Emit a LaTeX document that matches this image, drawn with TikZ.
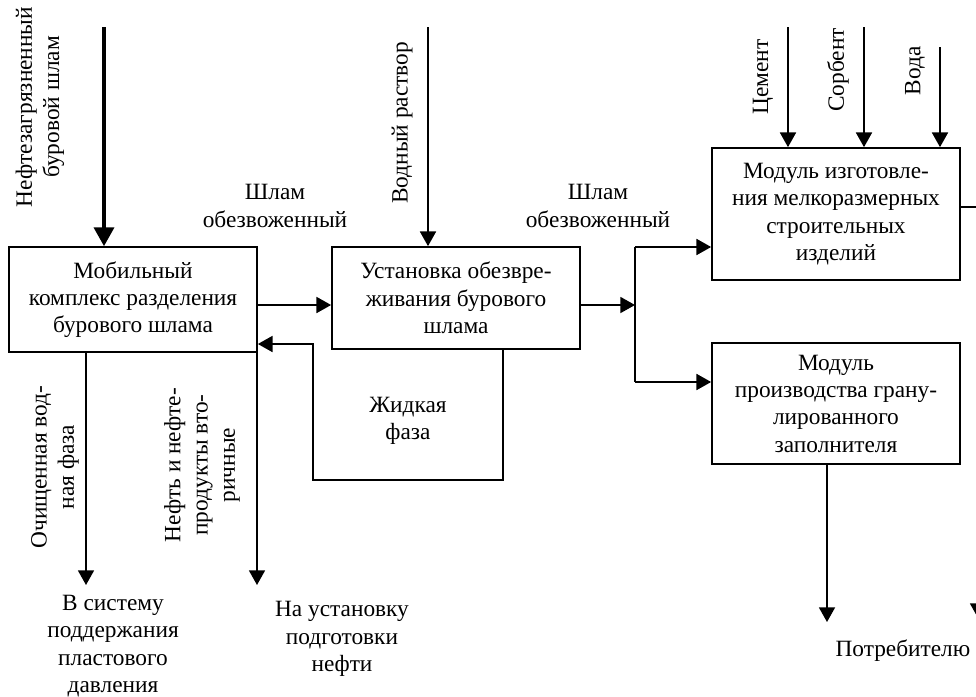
\documentclass[tikz,border=0pt]{standalone}
\usepackage{fontspec}
\setmainfont{Liberation Serif}
\usetikzlibrary{arrows.meta,calc}

\begin{document}
\begin{tikzpicture}[x=0.75pt,y=-0.75pt,
        blok/.style={draw, line width=1.3pt, minimum width=186pt, inner sep=0pt, align=center, font=\fontsize{17.5}{20.5}\selectfont},
        txt/.style={align=center, font=\fontsize{17.5}{20.5}\selectfont},
        potok/.style={line width=1.3pt, -{Triangle[length=11pt,width=12pt]}},
        linia/.style={line width=1.3pt},
        glavn/.style={line width=2.4pt, -{Triangle[length=14pt,width=15pt]}}]
        \useasboundingbox (0,0) rectangle (976,697);

        % блоки
        \node[blok, minimum height=78.75pt] (mob) at (133,299.5) {Мобильный\\комплекс разделения\\бурового шлама};
        \node[blok, minimum height=76.5pt] (ust) at (456,298) {Установка обезвре-\\живания бурового\\шлама};
        \node[blok, minimum height=99pt] (izd) at (836,214) {Модуль изготовле-\\ния мелкоразмерных\\строительных\\изделий};
        \node[blok, minimum height=90.75pt] (gran) at (836,403.5) {Модуль\\производства грану-\\лированного\\заполнителя};

        % точки потоков
        \coordinate (vhod) at (104,27);
        \coordinate (vr) at (428,27);
        \coordinate (s1) at (257,305);
        \coordinate (zh1) at (503,480);
        \coordinate (zh2) at (313,344);
        \coordinate (r1) at (635,247);
        \coordinate (r2) at (635,382);
        \coordinate (cem) at (788,27);
        \coordinate (sorb) at (864,27);
        \coordinate (voda) at (940,47);
        \coordinate (vyh1) at (86,585);
        \coordinate (vyh2) at (257,585);
        \coordinate (vyh3) at (827,622);
        \coordinate (pr1) at (978,207);
        \coordinate (pr2) at (978,618);

        \draw[glavn] (vhod) -- (vhod |- mob.north); % входной шлам
        \draw[potok] (vr) -- (vr |- ust.north);
        \draw[potok] (s1 -| mob.east) -- (s1 -| ust.west);
        \draw[potok] (zh1 |- ust.south) -- (zh1) -| (zh2) -- (zh2 -| mob.east); % жидкая фаза обратно
        \draw[potok] (s1 -| ust.east) -- (s1 -| r1);
        \draw[linia] (r1) -- (r2);
        \draw[potok] (r1) -- (r1 -| izd.west);
        \draw[potok] (r2) -- (r2 -| gran.west);
        \draw[potok] (cem) -- (cem |- izd.north);
        \draw[potok] (sorb) -- (sorb |- izd.north);
        \draw[potok] (voda) -- (voda |- izd.north);
        \draw[potok] (vyh1 |- mob.south) -- (vyh1);
        \draw[potok] (vyh2 |- mob.south) -- (vyh2);
        \draw[potok] (vyh3 |- gran.south) -- (vyh3);
        \draw[potok] (pr1 -| izd.east) -- (pr1) -- (pr2); % уходит за край

        % подписи
        \node[txt, rotate=90] (lnbs) at (40,107) {Нефтезагрязненный\\буровой шлам};
        \node[txt, rotate=90] (lvr) at (402,123) {Водный раствор};
        \node[txt] (lsh1) at (275,206) {Шлам\\обезвоженный};
        \node[txt] (lsh2) at (598,206) {Шлам\\обезвоженный};
        \node[txt, rotate=90] (lcem) at (763,77) {Цемент};
        \node[txt, rotate=90] (lsorb) at (838,70) {Сорбент};
        \node[txt, rotate=90] (lvoda) at (915,71) {Вода};
        \node[txt] (lzhf) at (408,421) {Жидкая\\фаза};
        \node[txt, rotate=90] (locv) at (55,467) {Очищенная вод-\\ная фаза};
        \node[txt, rotate=90] (lneft) at (202,465) {Нефть и нефте-\\продукты вто-\\ричные};
        \node[txt] (lsist) at (113,646) {В систему\\поддержания\\пластового\\давления};
        \node[txt] (lust) at (342,639) {На установку\\подготовки\\нефти};
        \node[txt, anchor=east] (lpotr) at (975,651) {Потребителю};
    \end{tikzpicture}
\end{document}
